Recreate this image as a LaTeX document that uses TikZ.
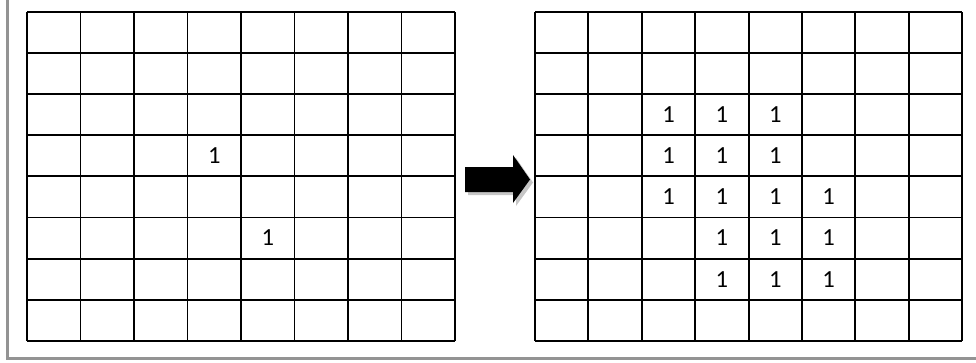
\documentclass[tikz,border=0pt]{standalone}
\usepackage{fontspec}
\setmainfont{Carlito}
\usepackage{tikz}
\tikzset{
  one/.style={font=\fontsize{14}{14}\selectfont, inner sep=0pt},
  gridline/.style={line width=1.1pt},
}
\begin{document}
\begin{tikzpicture}[x=0.02cm,y=-0.02cm]
  \useasboundingbox (0,0) rectangle (976,362);
  % frame
  \draw[gray!85, line width=1.2pt] (7.5,0) -- (7.5,358.5) -- (976,358.5);
  % left grid
  \foreach \i in {0,...,8} {
    \draw[gridline] (27+\i*53.5,12) -- (27+\i*53.5,340.8);
    \draw[gridline] (27,12+\i*41.1) -- (455,12+\i*41.1);
  }
  \node[one] (l33) at (27+3.5*53.5,12+3.5*41.1) {1};
  \node[one] (l54) at (27+4.5*53.5,12+5.5*41.1) {1};
  % arrow with shadow
  \fill[gray!45] (468,170) -- (516,170) -- (516,158) -- (533,182.5) -- (516,206) -- (516,195) -- (468,195) -- cycle;
  \fill[black] (465,167) -- (513,167) -- (513,155) -- (530,179.5) -- (513,203) -- (513,192) -- (465,192) -- cycle;
  % right grid
  \foreach \i in {0,...,8} {
    \draw[gridline] (535+\i*53.4,12) -- (535+\i*53.4,340.8);
    \draw[gridline] (535,12+\i*41.1) -- (962,12+\i*41.1);
  }
  \foreach \r/\c in {2/2,2/3,2/4,3/2,3/3,3/4,4/2,4/3,4/4,4/5,5/3,5/4,5/5,6/3,6/4,6/5}
    \node[one] (r\r\c) at (535+\c*53.4+26.7,12+\r*41.1+20.55) {1};
\end{tikzpicture}
\end{document}
